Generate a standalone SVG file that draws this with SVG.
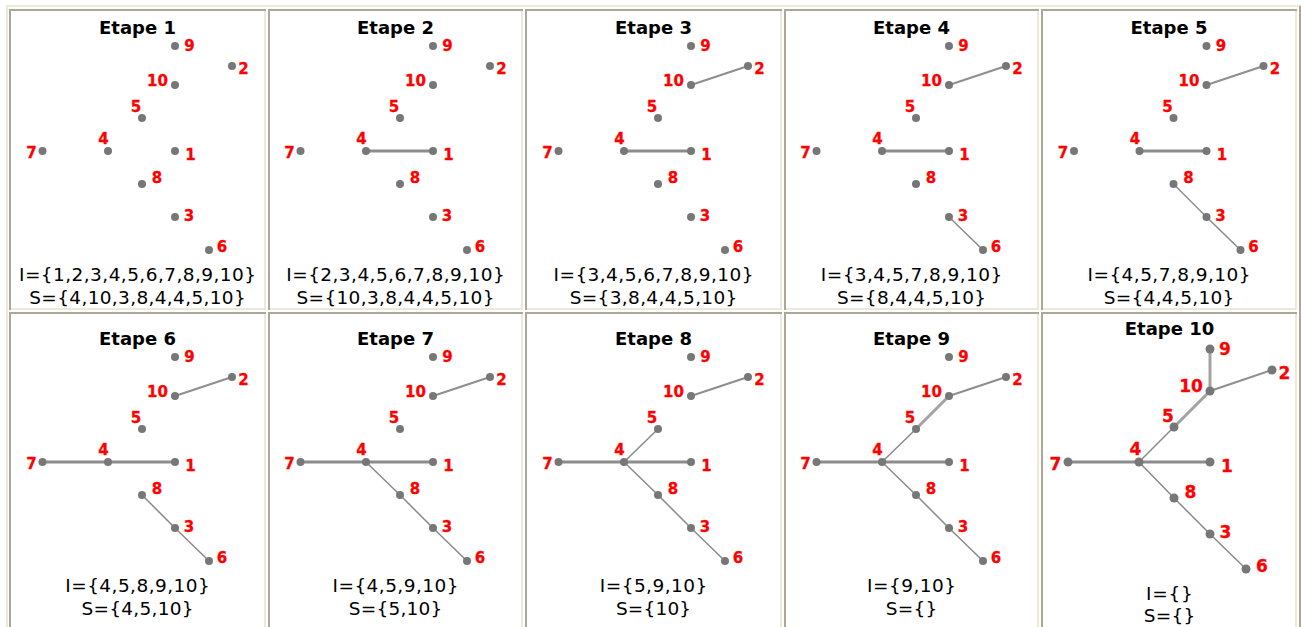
<svg xmlns="http://www.w3.org/2000/svg" xmlns:xlink="http://www.w3.org/1999/xlink" width="1301" height="627" viewBox="0 0 1301 627">
<style>
.bg{fill:#ffffff}
.dk{fill:none;stroke:#ACA899;stroke-width:2}
.lt{fill:none;stroke:#ECE9D8;stroke-width:2}
.title{font-family:"DejaVu Sans","Liberation Sans",sans-serif;font-weight:bold;font-size:18px;text-anchor:middle;fill:#000}
.set{font-family:"DejaVu Sans","Liberation Sans",sans-serif;font-size:18.5px;text-anchor:middle;fill:#000}
.lbl{font-family:"DejaVu Sans","Liberation Sans",sans-serif;font-weight:bold;font-size:15px;text-anchor:middle;fill:#ff0000;stroke:#ff0000;stroke-width:0.3}
.big .lbl{font-size:17px}
.dot{fill:#777777}
.ew{stroke:#8c8c8c;stroke-width:3;stroke-linecap:round}
.ew2{stroke:#a3a3a3;stroke-width:3;stroke-linecap:round}
.em{stroke:#8e8e8e;stroke-width:2;stroke-linecap:round}
.et{stroke:#8a8a8a;stroke-width:1.5;stroke-linecap:round}
</style>
<rect class="bg" x="0" y="0" width="1301" height="627"/>
<g id="frame">
<path class="lt" d="M7 627V6H1301"/>
<path class="dk" d="M1300 6V627"/>
<path class="dk" d="M10 310V10H266"/><path class="lt" d="M11 309H265V11"/>
<path class="dk" d="M269 310V10H523"/><path class="lt" d="M270 309H522V11"/>
<path class="dk" d="M526 310V10H782"/><path class="lt" d="M527 309H781V11"/>
<path class="dk" d="M785 310V10H1039"/><path class="lt" d="M786 309H1038V11"/>
<path class="dk" d="M1042 310V10H1297"/><path class="lt" d="M1043 309H1296V11"/>
<path class="dk" d="M10 640V313H266"/><path class="lt" d="M11 639H265V314"/>
<path class="dk" d="M269 640V313H523"/><path class="lt" d="M270 639H522V314"/>
<path class="dk" d="M526 640V313H782"/><path class="lt" d="M527 639H781V314"/>
<path class="dk" d="M785 640V313H1039"/><path class="lt" d="M786 639H1038V314"/>
<path class="dk" d="M1042 640V313H1297"/><path class="lt" d="M1043 639H1296V314"/>
</g>

<!-- Panel 1 -->
<g id="panel1" transform="translate(0,0)">
<text class="title" x="137.5" y="33.5">Etape 1</text>
<g id="p1-connectors"></g>
<g id="p1-n9"><circle class="dot" cx="175" cy="46" r="4"/><text class="lbl" x="189.5" y="51">9</text></g>
<g id="p1-n2"><circle class="dot" cx="232" cy="66" r="4"/><text class="lbl" x="243.5" y="74">2</text></g>
<g id="p1-n10"><circle class="dot" cx="175" cy="85" r="4"/><text class="lbl" x="157.5" y="86">10</text></g>
<g id="p1-n5"><circle class="dot" cx="142" cy="118" r="4"/><text class="lbl" x="136" y="112">5</text></g>
<g id="p1-n4"><circle class="dot" cx="108" cy="151" r="4"/><text class="lbl" x="103.5" y="144">4</text></g>
<g id="p1-n7"><circle class="dot" cx="42.5" cy="151" r="4"/><text class="lbl" x="31.5" y="158">7</text></g>
<g id="p1-n1"><circle class="dot" cx="175" cy="151" r="4"/><text class="lbl" x="190.5" y="160">1</text></g>
<g id="p1-n8"><circle class="dot" cx="142" cy="184" r="4"/><text class="lbl" x="157" y="183">8</text></g>
<g id="p1-n3"><circle class="dot" cx="175" cy="217" r="4"/><text class="lbl" x="189" y="221">3</text></g>
<g id="p1-n6"><circle class="dot" cx="209" cy="250" r="4"/><text class="lbl" x="222" y="252">6</text></g>
<text class="set" x="137.5" y="281" textLength="237" lengthAdjust="spacing">I={1,2,3,4,5,6,7,8,9,10}</text>
<text class="set" x="137.5" y="304" textLength="216.5" lengthAdjust="spacing">S={4,10,3,8,4,4,5,10}</text>
</g>

<!-- Panel 2 -->
<g id="panel2" transform="translate(258,0)">
<text class="title" x="137.5" y="33.5">Etape 2</text>
<g id="p2-connectors">
<line class="ew" x1="108" y1="151" x2="175" y2="151"/>
</g>
<g id="p2-n9"><circle class="dot" cx="175" cy="46" r="4"/><text class="lbl" x="189.5" y="51">9</text></g>
<g id="p2-n2"><circle class="dot" cx="232" cy="66" r="4"/><text class="lbl" x="243.5" y="74">2</text></g>
<g id="p2-n10"><circle class="dot" cx="175" cy="85" r="4"/><text class="lbl" x="157.5" y="86">10</text></g>
<g id="p2-n5"><circle class="dot" cx="142" cy="118" r="4"/><text class="lbl" x="136" y="112">5</text></g>
<g id="p2-n4"><circle class="dot" cx="108" cy="151" r="4"/><text class="lbl" x="103.5" y="144">4</text></g>
<g id="p2-n7"><circle class="dot" cx="42.5" cy="151" r="4"/><text class="lbl" x="31.5" y="158">7</text></g>
<g id="p2-n1"><circle class="dot" cx="175" cy="151" r="4"/><text class="lbl" x="190.5" y="160">1</text></g>
<g id="p2-n8"><circle class="dot" cx="142" cy="184" r="4"/><text class="lbl" x="157" y="183">8</text></g>
<g id="p2-n3"><circle class="dot" cx="175" cy="217" r="4"/><text class="lbl" x="189" y="221">3</text></g>
<g id="p2-n6"><circle class="dot" cx="209" cy="250" r="4"/><text class="lbl" x="222" y="252">6</text></g>
<text class="set" x="137.5" y="281" textLength="218.4" lengthAdjust="spacing">I={2,3,4,5,6,7,8,9,10}</text>
<text class="set" x="137.5" y="304" textLength="198" lengthAdjust="spacing">S={10,3,8,4,4,5,10}</text>
</g>

<!-- Panel 3 -->
<g id="panel3" transform="translate(516,0)">
<text class="title" x="137.5" y="33.5">Etape 3</text>
<g id="p3-connectors">
<line class="ew" x1="108" y1="151" x2="175" y2="151"/>
<line class="em" x1="175" y1="85" x2="232" y2="66"/>
</g>
<g id="p3-n9"><circle class="dot" cx="175" cy="46" r="4"/><text class="lbl" x="189.5" y="51">9</text></g>
<g id="p3-n2"><circle class="dot" cx="232" cy="66" r="4"/><text class="lbl" x="243.5" y="74">2</text></g>
<g id="p3-n10"><circle class="dot" cx="175" cy="85" r="4"/><text class="lbl" x="157.5" y="86">10</text></g>
<g id="p3-n5"><circle class="dot" cx="142" cy="118" r="4"/><text class="lbl" x="136" y="112">5</text></g>
<g id="p3-n4"><circle class="dot" cx="108" cy="151" r="4"/><text class="lbl" x="103.5" y="144">4</text></g>
<g id="p3-n7"><circle class="dot" cx="42.5" cy="151" r="4"/><text class="lbl" x="31.5" y="158">7</text></g>
<g id="p3-n1"><circle class="dot" cx="175" cy="151" r="4"/><text class="lbl" x="190.5" y="160">1</text></g>
<g id="p3-n8"><circle class="dot" cx="142" cy="184" r="4"/><text class="lbl" x="157" y="183">8</text></g>
<g id="p3-n3"><circle class="dot" cx="175" cy="217" r="4"/><text class="lbl" x="189" y="221">3</text></g>
<g id="p3-n6"><circle class="dot" cx="209" cy="250" r="4"/><text class="lbl" x="222" y="252">6</text></g>
<text class="set" x="137.5" y="281" textLength="199.9" lengthAdjust="spacing">I={3,4,5,6,7,8,9,10}</text>
<text class="set" x="137.5" y="304" textLength="167.7" lengthAdjust="spacing">S={3,8,4,4,5,10}</text>
</g>

<!-- Panel 4 -->
<g id="panel4" transform="translate(774,0)">
<text class="title" x="137.5" y="33.5">Etape 4</text>
<g id="p4-connectors">
<line class="ew" x1="108" y1="151" x2="175" y2="151"/>
<line class="em" x1="175" y1="85" x2="232" y2="66"/>
<line class="et" x1="175" y1="217" x2="209" y2="250"/>
</g>
<g id="p4-n9"><circle class="dot" cx="175" cy="46" r="4"/><text class="lbl" x="189.5" y="51">9</text></g>
<g id="p4-n2"><circle class="dot" cx="232" cy="66" r="4"/><text class="lbl" x="243.5" y="74">2</text></g>
<g id="p4-n10"><circle class="dot" cx="175" cy="85" r="4"/><text class="lbl" x="157.5" y="86">10</text></g>
<g id="p4-n5"><circle class="dot" cx="142" cy="118" r="4"/><text class="lbl" x="136" y="112">5</text></g>
<g id="p4-n4"><circle class="dot" cx="108" cy="151" r="4"/><text class="lbl" x="103.5" y="144">4</text></g>
<g id="p4-n7"><circle class="dot" cx="42.5" cy="151" r="4"/><text class="lbl" x="31.5" y="158">7</text></g>
<g id="p4-n1"><circle class="dot" cx="175" cy="151" r="4"/><text class="lbl" x="190.5" y="160">1</text></g>
<g id="p4-n8"><circle class="dot" cx="142" cy="184" r="4"/><text class="lbl" x="157" y="183">8</text></g>
<g id="p4-n3"><circle class="dot" cx="175" cy="217" r="4"/><text class="lbl" x="189" y="221">3</text></g>
<g id="p4-n6"><circle class="dot" cx="209" cy="250" r="4"/><text class="lbl" x="222" y="252">6</text></g>
<text class="set" x="137.5" y="281" textLength="181.4" lengthAdjust="spacing">I={3,4,5,7,8,9,10}</text>
<text class="set" x="137.5" y="304" textLength="149.2" lengthAdjust="spacing">S={8,4,4,5,10}</text>
</g>

<!-- Panel 5 -->
<g id="panel5" transform="translate(1031.5,0)">
<text class="title" x="137.5" y="33.5">Etape 5</text>
<g id="p5-connectors">
<line class="ew" x1="108" y1="151" x2="175" y2="151"/>
<line class="em" x1="175" y1="85" x2="232" y2="66"/>
<line class="et" x1="142" y1="184" x2="175" y2="217"/>
<line class="et" x1="175" y1="217" x2="209" y2="250"/>
</g>
<g id="p5-n9"><circle class="dot" cx="175" cy="46" r="4"/><text class="lbl" x="189.5" y="51">9</text></g>
<g id="p5-n2"><circle class="dot" cx="232" cy="66" r="4"/><text class="lbl" x="243.5" y="74">2</text></g>
<g id="p5-n10"><circle class="dot" cx="175" cy="85" r="4"/><text class="lbl" x="157.5" y="86">10</text></g>
<g id="p5-n5"><circle class="dot" cx="142" cy="118" r="4"/><text class="lbl" x="136" y="112">5</text></g>
<g id="p5-n4"><circle class="dot" cx="108" cy="151" r="4"/><text class="lbl" x="103.5" y="144">4</text></g>
<g id="p5-n7"><circle class="dot" cx="42.5" cy="151" r="4"/><text class="lbl" x="31.5" y="158">7</text></g>
<g id="p5-n1"><circle class="dot" cx="175" cy="151" r="4"/><text class="lbl" x="190.5" y="160">1</text></g>
<g id="p5-n8"><circle class="dot" cx="142" cy="184" r="4"/><text class="lbl" x="157" y="183">8</text></g>
<g id="p5-n3"><circle class="dot" cx="175" cy="217" r="4"/><text class="lbl" x="189" y="221">3</text></g>
<g id="p5-n6"><circle class="dot" cx="209" cy="250" r="4"/><text class="lbl" x="222" y="252">6</text></g>
<text class="set" x="137.5" y="281" textLength="162.9" lengthAdjust="spacing">I={4,5,7,8,9,10}</text>
<text class="set" x="137.5" y="304" textLength="130.7" lengthAdjust="spacing">S={4,4,5,10}</text>
</g>

<!-- Panel 6 -->
<g id="panel6" transform="translate(0,311)">
<text class="title" x="137.5" y="33.5">Etape 6</text>
<g id="p6-connectors">
<line class="ew" x1="42.5" y1="151" x2="108" y2="151"/>
<line class="ew" x1="108" y1="151" x2="175" y2="151"/>
<line class="em" x1="175" y1="85" x2="232" y2="66"/>
<line class="et" x1="142" y1="184" x2="175" y2="217"/>
<line class="et" x1="175" y1="217" x2="209" y2="250"/>
</g>
<g id="p6-n9"><circle class="dot" cx="175" cy="46" r="4"/><text class="lbl" x="189.5" y="51">9</text></g>
<g id="p6-n2"><circle class="dot" cx="232" cy="66" r="4"/><text class="lbl" x="243.5" y="74">2</text></g>
<g id="p6-n10"><circle class="dot" cx="175" cy="85" r="4"/><text class="lbl" x="157.5" y="86">10</text></g>
<g id="p6-n5"><circle class="dot" cx="142" cy="118" r="4"/><text class="lbl" x="136" y="112">5</text></g>
<g id="p6-n4"><circle class="dot" cx="108" cy="151" r="4"/><text class="lbl" x="103.5" y="144">4</text></g>
<g id="p6-n7"><circle class="dot" cx="42.5" cy="151" r="4"/><text class="lbl" x="31.5" y="158">7</text></g>
<g id="p6-n1"><circle class="dot" cx="175" cy="151" r="4"/><text class="lbl" x="190.5" y="160">1</text></g>
<g id="p6-n8"><circle class="dot" cx="142" cy="184" r="4"/><text class="lbl" x="157" y="183">8</text></g>
<g id="p6-n3"><circle class="dot" cx="175" cy="217" r="4"/><text class="lbl" x="189" y="221">3</text></g>
<g id="p6-n6"><circle class="dot" cx="209" cy="250" r="4"/><text class="lbl" x="222" y="252">6</text></g>
<text class="set" x="137.5" y="281" textLength="144.4" lengthAdjust="spacing">I={4,5,8,9,10}</text>
<text class="set" x="137.5" y="304" textLength="112.2" lengthAdjust="spacing">S={4,5,10}</text>
</g>

<!-- Panel 7 -->
<g id="panel7" transform="translate(258,311)">
<text class="title" x="137.5" y="33.5">Etape 7</text>
<g id="p7-connectors">
<line class="ew" x1="42.5" y1="151" x2="108" y2="151"/>
<line class="ew" x1="108" y1="151" x2="175" y2="151"/>
<line class="em" x1="175" y1="85" x2="232" y2="66"/>
<line class="et" x1="108" y1="151" x2="142" y2="184"/>
<line class="et" x1="142" y1="184" x2="175" y2="217"/>
<line class="et" x1="175" y1="217" x2="209" y2="250"/>
</g>
<g id="p7-n9"><circle class="dot" cx="175" cy="46" r="4"/><text class="lbl" x="189.5" y="51">9</text></g>
<g id="p7-n2"><circle class="dot" cx="232" cy="66" r="4"/><text class="lbl" x="243.5" y="74">2</text></g>
<g id="p7-n10"><circle class="dot" cx="175" cy="85" r="4"/><text class="lbl" x="157.5" y="86">10</text></g>
<g id="p7-n5"><circle class="dot" cx="142" cy="118" r="4"/><text class="lbl" x="136" y="112">5</text></g>
<g id="p7-n4"><circle class="dot" cx="108" cy="151" r="4"/><text class="lbl" x="103.5" y="144">4</text></g>
<g id="p7-n7"><circle class="dot" cx="42.5" cy="151" r="4"/><text class="lbl" x="31.5" y="158">7</text></g>
<g id="p7-n1"><circle class="dot" cx="175" cy="151" r="4"/><text class="lbl" x="190.5" y="160">1</text></g>
<g id="p7-n8"><circle class="dot" cx="142" cy="184" r="4"/><text class="lbl" x="157" y="183">8</text></g>
<g id="p7-n3"><circle class="dot" cx="175" cy="217" r="4"/><text class="lbl" x="189" y="221">3</text></g>
<g id="p7-n6"><circle class="dot" cx="209" cy="250" r="4"/><text class="lbl" x="222" y="252">6</text></g>
<text class="set" x="137.5" y="281" textLength="125.9" lengthAdjust="spacing">I={4,5,9,10}</text>
<text class="set" x="137.5" y="304" textLength="93.7" lengthAdjust="spacing">S={5,10}</text>
</g>

<!-- Panel 8 -->
<g id="panel8" transform="translate(516,311)">
<text class="title" x="137.5" y="33.5">Etape 8</text>
<g id="p8-connectors">
<line class="ew" x1="42.5" y1="151" x2="108" y2="151"/>
<line class="ew" x1="108" y1="151" x2="175" y2="151"/>
<line class="em" x1="175" y1="85" x2="232" y2="66"/>
<line class="et" x1="108" y1="151" x2="142" y2="118"/>
<line class="et" x1="108" y1="151" x2="142" y2="184"/>
<line class="et" x1="142" y1="184" x2="175" y2="217"/>
<line class="et" x1="175" y1="217" x2="209" y2="250"/>
</g>
<g id="p8-n9"><circle class="dot" cx="175" cy="46" r="4"/><text class="lbl" x="189.5" y="51">9</text></g>
<g id="p8-n2"><circle class="dot" cx="232" cy="66" r="4"/><text class="lbl" x="243.5" y="74">2</text></g>
<g id="p8-n10"><circle class="dot" cx="175" cy="85" r="4"/><text class="lbl" x="157.5" y="86">10</text></g>
<g id="p8-n5"><circle class="dot" cx="142" cy="118" r="4"/><text class="lbl" x="136" y="112">5</text></g>
<g id="p8-n4"><circle class="dot" cx="108" cy="151" r="4"/><text class="lbl" x="103.5" y="144">4</text></g>
<g id="p8-n7"><circle class="dot" cx="42.5" cy="151" r="4"/><text class="lbl" x="31.5" y="158">7</text></g>
<g id="p8-n1"><circle class="dot" cx="175" cy="151" r="4"/><text class="lbl" x="190.5" y="160">1</text></g>
<g id="p8-n8"><circle class="dot" cx="142" cy="184" r="4"/><text class="lbl" x="157" y="183">8</text></g>
<g id="p8-n3"><circle class="dot" cx="175" cy="217" r="4"/><text class="lbl" x="189" y="221">3</text></g>
<g id="p8-n6"><circle class="dot" cx="209" cy="250" r="4"/><text class="lbl" x="222" y="252">6</text></g>
<text class="set" x="137.5" y="281" textLength="107.4" lengthAdjust="spacing">I={5,9,10}</text>
<text class="set" x="137.5" y="304" textLength="75.2" lengthAdjust="spacing">S={10}</text>
</g>

<!-- Panel 9 -->
<g id="panel9" transform="translate(774,311)">
<text class="title" x="137.5" y="33.5">Etape 9</text>
<g id="p9-connectors">
<line class="ew" x1="42.5" y1="151" x2="108" y2="151"/>
<line class="ew" x1="108" y1="151" x2="175" y2="151"/>
<line class="em" x1="175" y1="85" x2="232" y2="66"/>
<line class="ew2" x1="142" y1="118" x2="175" y2="85"/>
<line class="et" x1="108" y1="151" x2="142" y2="118"/>
<line class="et" x1="108" y1="151" x2="142" y2="184"/>
<line class="et" x1="142" y1="184" x2="175" y2="217"/>
<line class="et" x1="175" y1="217" x2="209" y2="250"/>
</g>
<g id="p9-n9"><circle class="dot" cx="175" cy="46" r="4"/><text class="lbl" x="189.5" y="51">9</text></g>
<g id="p9-n2"><circle class="dot" cx="232" cy="66" r="4"/><text class="lbl" x="243.5" y="74">2</text></g>
<g id="p9-n10"><circle class="dot" cx="175" cy="85" r="4"/><text class="lbl" x="157.5" y="86">10</text></g>
<g id="p9-n5"><circle class="dot" cx="142" cy="118" r="4"/><text class="lbl" x="136" y="112">5</text></g>
<g id="p9-n4"><circle class="dot" cx="108" cy="151" r="4"/><text class="lbl" x="103.5" y="144">4</text></g>
<g id="p9-n7"><circle class="dot" cx="42.5" cy="151" r="4"/><text class="lbl" x="31.5" y="158">7</text></g>
<g id="p9-n1"><circle class="dot" cx="175" cy="151" r="4"/><text class="lbl" x="190.5" y="160">1</text></g>
<g id="p9-n8"><circle class="dot" cx="142" cy="184" r="4"/><text class="lbl" x="157" y="183">8</text></g>
<g id="p9-n3"><circle class="dot" cx="175" cy="217" r="4"/><text class="lbl" x="189" y="221">3</text></g>
<g id="p9-n6"><circle class="dot" cx="209" cy="250" r="4"/><text class="lbl" x="222" y="252">6</text></g>
<text class="set" x="137.5" y="281" textLength="88.9" lengthAdjust="spacing">I={9,10}</text>
<text class="set" x="137.5" y="304" textLength="51.7" lengthAdjust="spacing">S={}</text>
</g>

<!-- Panel 10 -->
<g id="panel10" class="big">
<text class="title" x="1169.5" y="335">Etape 10</text>
<g id="p10-connectors">
<line class="ew" x1="1068" y1="462" x2="1139" y2="462"/>
<line class="ew" x1="1139" y1="462" x2="1210" y2="462"/>
<line class="em" x1="1210" y1="391" x2="1272" y2="370"/>
<line class="ew2" x1="1210" y1="349" x2="1210" y2="391"/>
<line class="ew2" x1="1174" y1="427" x2="1210" y2="391"/>
<line class="et" x1="1139" y1="462" x2="1174" y2="427"/>
<line class="et" x1="1139" y1="462" x2="1174" y2="498"/>
<line class="et" x1="1174" y1="498" x2="1210" y2="534"/>
<line class="et" x1="1210" y1="534" x2="1246" y2="569"/>
</g>
<g id="p10-n9"><circle class="dot" cx="1210" cy="349" r="4.5"/><text class="lbl" x="1225" y="355">9</text></g>
<g id="p10-n2"><circle class="dot" cx="1272" cy="370" r="4.5"/><text class="lbl" x="1284.5" y="379">2</text></g>
<g id="p10-n10"><circle class="dot" cx="1210" cy="391" r="4.5"/><text class="lbl" x="1191" y="392">10</text></g>
<g id="p10-n5"><circle class="dot" cx="1174" cy="427" r="4.5"/><text class="lbl" x="1168" y="422">5</text></g>
<g id="p10-n4"><circle class="dot" cx="1139" cy="462" r="4.5"/><text class="lbl" x="1135.5" y="455">4</text></g>
<g id="p10-n7"><circle class="dot" cx="1068" cy="462" r="4.5"/><text class="lbl" x="1055.5" y="470">7</text></g>
<g id="p10-n1"><circle class="dot" cx="1210" cy="462" r="4.5"/><text class="lbl" x="1227" y="472">1</text></g>
<g id="p10-n8"><circle class="dot" cx="1174" cy="498" r="4.5"/><text class="lbl" x="1190.5" y="498">8</text></g>
<g id="p10-n3"><circle class="dot" cx="1210" cy="534" r="4.5"/><text class="lbl" x="1225.5" y="538">3</text></g>
<g id="p10-n6"><circle class="dot" cx="1246" cy="569" r="4.5"/><text class="lbl" x="1262" y="572">6</text></g>
<text class="set" x="1169.5" y="600" textLength="46.8" lengthAdjust="spacing">I={}</text>
<text class="set" x="1169.5" y="622" textLength="51.7" lengthAdjust="spacing">S={}</text>
</g>
</svg>
